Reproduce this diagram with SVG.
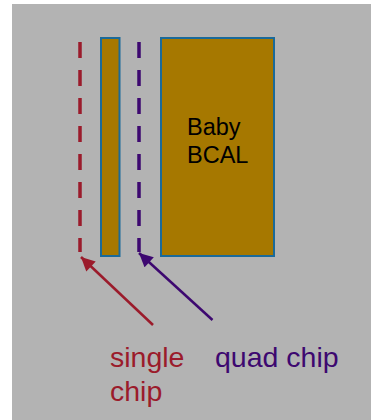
<svg xmlns="http://www.w3.org/2000/svg" width="371" height="420" viewBox="0 0 371 420">
<defs>
<style>
.blk{fill:#a67800;stroke:#1a6a9a;stroke-width:2}
.t{font-family:"Liberation Sans",Arial,sans-serif}
</style>
<marker id="ar" viewBox="0 0 10 10" refX="10" refY="5" markerWidth="6" markerHeight="5.5" orient="auto" markerUnits="strokeWidth"><path d="M0,0 L10,5 L0,10 z" fill="#9b1b2b"/></marker>
<marker id="ap" viewBox="0 0 10 10" refX="10" refY="5" markerWidth="6" markerHeight="5.5" orient="auto" markerUnits="strokeWidth"><path d="M0,0 L10,5 L0,10 z" fill="#3d0870"/></marker>
</defs>
<rect x="12" y="4" width="359" height="416" fill="#b3b3b3"/>
<g id="thin"><rect class="blk" x="101" y="38" width="18.5" height="218"/></g>
<g id="baby"><rect class="blk" x="161" y="38" width="113" height="218"/>
<text class="t" x="187" y="135" font-size="23.5" fill="#000">Baby</text>
<text class="t" x="187" y="163" font-size="23.5" fill="#000">BCAL</text></g>
<g id="single"><line x1="80" y1="42" x2="80" y2="252" stroke="#9b1b2b" stroke-width="3.5" stroke-dasharray="16 12"/>
<text class="t" x="110" y="367" font-size="28.5" fill="#9b1b2b">single</text>
<text class="t" x="110" y="401" font-size="28.5" fill="#9b1b2b">chip</text></g>
<g id="quad"><line x1="139" y1="42" x2="139" y2="252" stroke="#3d0870" stroke-width="3.5" stroke-dasharray="16 12"/>
<text class="t" x="215" y="367" font-size="28.5" fill="#3d0870">quad chip</text></g>
<g id="connectors">
<line x1="153" y1="325" x2="81" y2="257" stroke="#9b1b2b" stroke-width="2.5" marker-end="url(#ar)"/>
<line x1="212.5" y1="320" x2="139" y2="253" stroke="#3d0870" stroke-width="2.5" marker-end="url(#ap)"/>
</g>
</svg>
